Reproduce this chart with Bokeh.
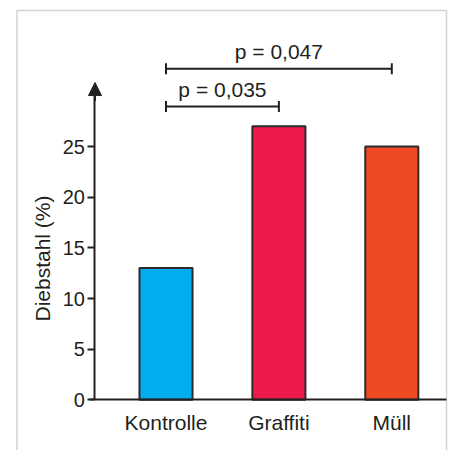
import math
from bokeh.plotting import figure
from bokeh.models import (Range1d, LinearAxis, FixedTicker, Arrow, NormalHead,
                          ColumnDataSource, BoxAnnotation, Whisker, TeeHead, Label)
from bokeh.embed import file_html
from bokeh.resources import INLINE
from bokeh.core.properties import value

# ---- data ----
categories = ["Kontrolle", "Graffiti", "Müll"]
diebstahl = [13, 27, 25]
bar_colors = ["#00aeef", "#ed1a4b", "#ef4a23"]
y_ticks = [0, 5, 10, 15, 20, 25]
comp_start = [0, 0]
comp_end = [1, 2]
p_labels = ["p = 0,035", "p = 0,047"]
bracket_levels = [28.95, 32.68]
y_title = "Diebstahl (%)"

TEXT = "#231f20"
FONT = "Liberation Sans"
x_idx = list(range(len(categories)))

p = figure(width=449, height=450,
           x_range=Range1d(-1.4659, 2.5111), y_range=Range1d(-5.005, 39.418),
           output_backend="svg", toolbar_location=None,
           x_axis_type=None, y_axis_type=None, min_border=0,
           outline_line_color=None, background_fill_color="white",
           border_fill_color="white")

# frame box (open at the bottom)
p.add_layout(BoxAnnotation(left=-1.320, right=2.4845, top=38.43, bottom=-8,
                           fill_alpha=0, line_color="#6d6e71", line_width=1.5))

# bars
src = ColumnDataSource(dict(x=x_idx, top=diebstahl, color=bar_colors))
p.vbar(x="x", top="top", bottom=0, width=0.47, source=src, fill_color="color",
       line_color="#2b2b2b", line_width=2)

# y axis
yax = LinearAxis(fixed_location=-0.629, bounds=(0, 30.5),
                 ticker=FixedTicker(ticks=y_ticks))
yax.axis_line_color = TEXT
yax.axis_line_width = 2
yax.major_tick_line_color = TEXT
yax.major_tick_line_width = 2
yax.major_tick_out = 7
yax.major_tick_in = 0
yax.minor_tick_line_color = None
yax.major_label_standoff = 3
yax.major_label_text_font = FONT
yax.major_label_text_font_size = "20px"
yax.major_label_text_color = TEXT
p.add_layout(yax, "left")

# y axis title
p.add_layout(Label(x=-1.094, y=13.95, text=y_title, angle=math.pi / 2,
                   text_align="center", text_baseline="middle",
                   text_font=FONT, text_font_size="21px", text_color=TEXT))

# x axis
xax = LinearAxis(fixed_location=0, bounds=(-0.669, 2.4845),
                 ticker=FixedTicker(ticks=x_idx),
                 major_label_overrides={i: c for i, c in enumerate(categories)})
xax.axis_line_color = TEXT
xax.axis_line_width = 2
xax.major_tick_line_color = None
xax.minor_tick_line_color = None
xax.major_tick_out = 0
xax.major_tick_in = 0
xax.major_label_standoff = 11
xax.major_label_text_font = FONT
xax.major_label_text_font_size = "21px"
xax.major_label_text_color = TEXT
p.add_layout(xax, "below")

# arrow head on y axis
p.add_layout(Arrow(end=NormalHead(size=13, fill_color=TEXT, line_color=TEXT),
                   x_start=-0.629, y_start=29.5, x_end=-0.629, y_end=31.32,
                   line_color=TEXT, line_width=2))

# significance brackets
bsrc = ColumnDataSource(dict(lower=comp_start, upper=comp_end, base=bracket_levels,
                             mid=[(a + b) / 2 for a, b in zip(comp_start, comp_end)],
                             label=p_labels))
p.add_layout(Whisker(source=bsrc, base="base", lower="lower", upper="upper",
                     dimension="width", line_color=TEXT, line_width=2,
                     lower_head=TeeHead(size=11, line_color=TEXT, line_width=2),
                     upper_head=TeeHead(size=11, line_color=TEXT, line_width=2)))
p.text(x="mid", y="base", text="label", source=bsrc, text_align="center",
       text_baseline="bottom", y_offset=-6, text_font=value(FONT),
       text_font_size="21px", text_color=TEXT)

open("out.html", "w").write(file_html(p, INLINE))
